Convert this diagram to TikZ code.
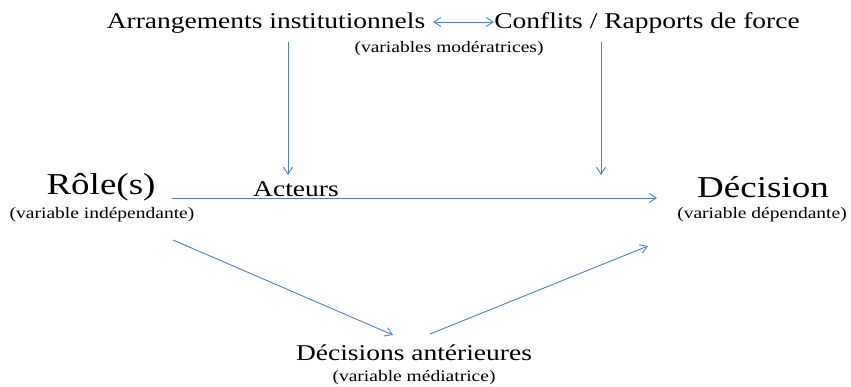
\documentclass[tikz,border=0pt]{standalone}
\usepackage{fontspec}
\usepackage{graphicx}
\setmainfont{Liberation Serif}
\usetikzlibrary{arrows.meta}
\definecolor{arrowblue}{RGB}{79,129,189}
\newcommand{\sqz}[1]{\scalebox{1}[0.82]{#1}}
\tikzset{
  big/.style={inner sep=0pt, font=\fontsize{27.5}{30}\selectfont},
  huge/.style={inner sep=0pt, font=\fontsize{37}{40}\selectfont},
  small/.style={inner sep=0pt, font=\fontsize{19.5}{22}\selectfont},
  conn/.style={draw=arrowblue, line width=0.9pt, -{Straight Barb[length=7pt,width=9pt]}},
}
\begin{document}
\begin{tikzpicture}[x=1pt,y=-1pt]
\useasboundingbox (0,0) rectangle (851,387);
\node[big] (arr) at (266,23) {\sqz{Arrangements institutionnels}};
\node[big] (conf) at (647,23) {\sqz{Conflits / Rapports de force}};
\node[small] (mod) at (449,49) {\sqz{(variables modératrices)}};
\node[huge] (role) at (101,187) {\sqz{Rôle(s)}};
\node[small] (indep) at (102,215) {\sqz{(variable indépendante)}};
\node[big] (act) at (296,189) {\sqz{Acteurs}};
\node[huge] (dec) at (763,187) {\sqz{Décision}};
\node[small] (dep) at (762,215) {\sqz{(variable dépendante)}};
\node[big] (ant) at (414,353) {\sqz{Décisions antérieures}};
\node[small] (med) at (414,378) {\sqz{(variable médiatrice)}};
\coordinate (a1) at (433,22);
\coordinate (a2) at (494,22);
\draw[conn, {Straight Barb[length=7pt,width=9pt]}-{Straight Barb[length=7pt,width=9pt]}] (a1) -- (a2);
\coordinate (d1s) at (288,42);
\coordinate (d1e) at (288,175);
\draw[conn] (d1s) -- (d1e);
\coordinate (d2s) at (601,42);
\coordinate (d2e) at (601,175);
\draw[conn] (d2s) -- (d2e);
\coordinate (hs) at (172,198);
\coordinate (he) at (657,198);
\draw[conn] (hs) -- (he);
\coordinate (l1s) at (173,240);
\coordinate (l1e) at (393,335);
\draw[conn] (l1s) -- (l1e);
\coordinate (l2s) at (430,334);
\coordinate (l2e) at (648,246);
\draw[conn] (l2s) -- (l2e);
\end{tikzpicture}
\end{document}
